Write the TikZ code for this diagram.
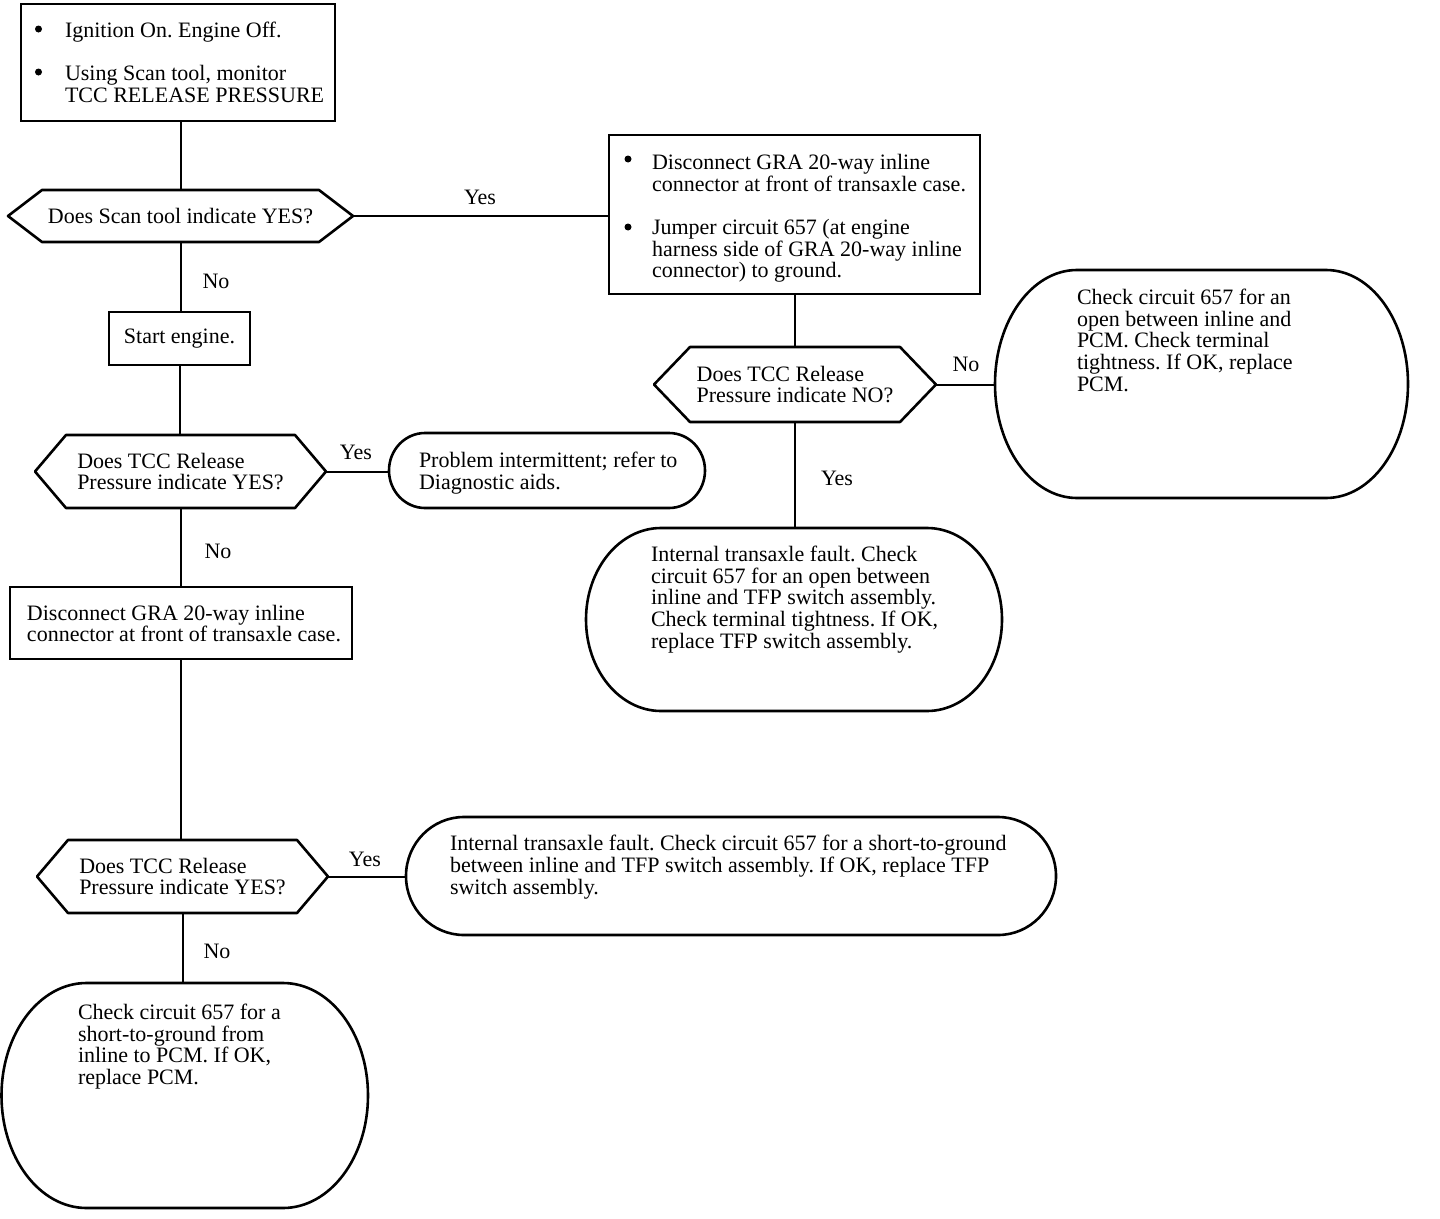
\documentclass[tikz,border=0pt]{standalone}
\usepackage{fontspec}
\setmainfont{Liberation Serif}
\usetikzlibrary{calc}
\frenchspacing
\tikzset{
  box/.style={draw, line width=2.6pt, rectangle, inner sep=0pt, outer sep=0pt},
  ghost/.style={inner sep=0pt, outer sep=0pt, align=left},
  txt/.style={anchor=north west, inner sep=0pt, outer sep=0pt, align=left},
  lbl/.style={inner sep=0pt},
  conn/.style={line width=2pt},
  shp/.style={line width=2.6pt, line join=round},
  dot/.style={circle, fill, inner sep=0pt, minimum size=7pt},
}
\newcommand\hexpath[2]{\draw[shp] (#1.west) -- ($(#1.north west)+(#2,0pt)$) -- ($(#1.north east)+(-#2,0pt)$) -- (#1.east) -- ($(#1.south east)+(-#2,0pt)$) -- ($(#1.south west)+(#2,0pt)$) -- cycle;}
\newcommand\termpath[3]{\draw[shp] ($(#1.north west)+(#2,0pt)$) -- ($(#1.north east)+(-#2,0pt)$) arc[start angle=90,end angle=0,x radius=#2,y radius=#3] -- ($(#1.south east)+(0pt,#3)$) arc[start angle=0,end angle=-90,x radius=#2,y radius=#3] -- ($(#1.south west)+(#2,0pt)$) arc[start angle=270,end angle=180,x radius=#2,y radius=#3] -- ($(#1.north west)+(0pt,-#3)$) arc[start angle=180,end angle=90,x radius=#2,y radius=#3] -- cycle;}
\begin{document}
\begin{tikzpicture}[x=1pt, y=-1pt, font=\fontsize{22}{21.6}\selectfont]
\fill[white] (0,0) rectangle (1440,1218);
\useasboundingbox (0,0) rectangle (1440,1218);

% top-left box
\node[box, minimum width=314pt, minimum height=117pt] (b1) at (178,62.5) {};
\node[dot] (b1d1) at (38.5,29) {};
\node[txt] (b1t1) at (65,22.2) {Ignition On. Engine Off.};
\node[dot] (b1d2) at (38.5,72) {};
\node[txt] (b1t2) at (65,65.2) {Using Scan tool, monitor\\TCC RELEASE PRESSURE};

% decision 1
\node[ghost, minimum width=345pt, minimum height=52pt] (d1) at (180.5,216) {Does Scan tool indicate YES?};
\hexpath{d1}{34pt}

% start engine
\node[box, minimum width=141pt, minimum height=53pt] (s1) at (179.5,338.5) {Start engine.};

% decision 2
\node[ghost, minimum width=291pt, minimum height=73pt] (d2) at (180.5,471.5) {Does TCC Release\\Pressure indicate YES?};
\hexpath{d2}{31pt}

% terminal 1
\node[ghost, minimum width=316pt, minimum height=75pt] (t1) at (547,470.5) {};
\termpath{t1}{36pt}{37.5pt}
\node[txt] (t1t) at (419,452.2) {Problem intermittent; refer to\\Diagnostic aids.};

% box 3
\node[box, minimum width=342pt, minimum height=72pt] (b3) at (181,623) {};
\node[txt] (b3t) at (27,604.8) {Disconnect GRA 20-way inline\\connector at front of transaxle case.};

% decision 4
\node[ghost, minimum width=291pt, minimum height=73pt] (d4) at (182.5,876.5) {Does TCC Release\\Pressure indicate YES?};
\hexpath{d4}{31pt}

% terminal 4
\node[ghost, minimum width=650pt, minimum height=118pt] (t4) at (731,876) {};
\termpath{t4}{58pt}{59pt}
\node[txt] (t4t) at (450,835.3) {Internal transaxle fault. Check circuit 657 for a short-to-ground\\between inline and TFP switch assembly. If OK, replace TFP\\switch assembly.};

% terminal 5
\node[ghost, minimum width=366.5pt, minimum height=225pt] (t5) at (184.75,1095.5) {};
\termpath{t5}{85pt}{112.5pt}
\node[txt] (t5t) at (78,1004.2) {Check circuit 657 for a\\short-to-ground from\\inline to PCM. If OK,\\replace PCM.};

% box 2
\node[box, minimum width=371pt, minimum height=159pt] (b2) at (794.5,214.5) {};
\node[dot] (b2d1) at (628,159) {};
\node[txt] (b2t1) at (652,154.3) {Disconnect GRA 20-way inline\\connector at front of transaxle case.};
\node[dot] (b2d2) at (628,227) {};
\node[txt] (b2t2) at (652,219.3) {Jumper circuit 657 (at engine\\harness side of GRA 20-way inline\\connector) to ground.};

% decision 3
\node[ghost, minimum width=282pt, minimum height=75pt] (d3) at (795,384.5) {Does TCC Release\\Pressure indicate NO?};
\hexpath{d3}{36pt}

% terminal 2
\node[ghost, minimum width=413pt, minimum height=228pt] (t2) at (1201.5,384) {};
\termpath{t2}{82pt}{114pt}
\node[txt] (t2t) at (1077,289.2) {Check circuit 657 for an\\open between inline and\\PCM. Check terminal\\tightness. If OK, replace\\PCM.};

% terminal 3
\node[ghost, minimum width=416pt, minimum height=183pt] (t3) at (794,619.5) {};
\termpath{t3}{75pt}{91.5pt}
\node[txt] (t3t) at (651,546.2) {Internal transaxle fault. Check\\circuit 657 for an open between\\inline and TFP switch assembly.\\Check terminal tightness. If OK,\\replace TFP switch assembly.};

% connectors
\draw[conn] (d1.north |- b1.south) -- (d1.north);
\draw[conn] (d1.south) -- (d1.south |- s1.north);
\draw[conn] (s1.south) -- (s1.south |- d2.north);
\draw[conn] (d2.south) -- (d2.south |- b3.north);
\draw[conn] (b3.south) -- (b3.south |- d4.north);
\draw[conn] (d4.south) -- (d4.south |- t5.north);
\draw[conn] (d1.east) -- (d1.east -| b2.west);
\draw[conn] (d2.east) -- (d2.east -| t1.west);
\draw[conn] (d4.east) -- (d4.east -| t4.west);
\draw[conn] (b2.south) -- (b2.south |- d3.north);
\draw[conn] (d3.east) -- (d3.east -| t2.west);
\draw[conn] (d3.south) -- (d3.south |- t3.north);

% labels
\node[lbl] (l1) at (480,197) {Yes};
\node[lbl] (l2) at (216,281) {No};
\node[lbl] (l3) at (356,452) {Yes};
\node[lbl] (l4) at (218,551) {No};
\node[lbl] (l5) at (966,364) {No};
\node[lbl] (l6) at (837,478) {Yes};
\node[lbl] (l7) at (365,859) {Yes};
\node[lbl] (l8) at (217,951) {No};
\end{tikzpicture}
\end{document}
